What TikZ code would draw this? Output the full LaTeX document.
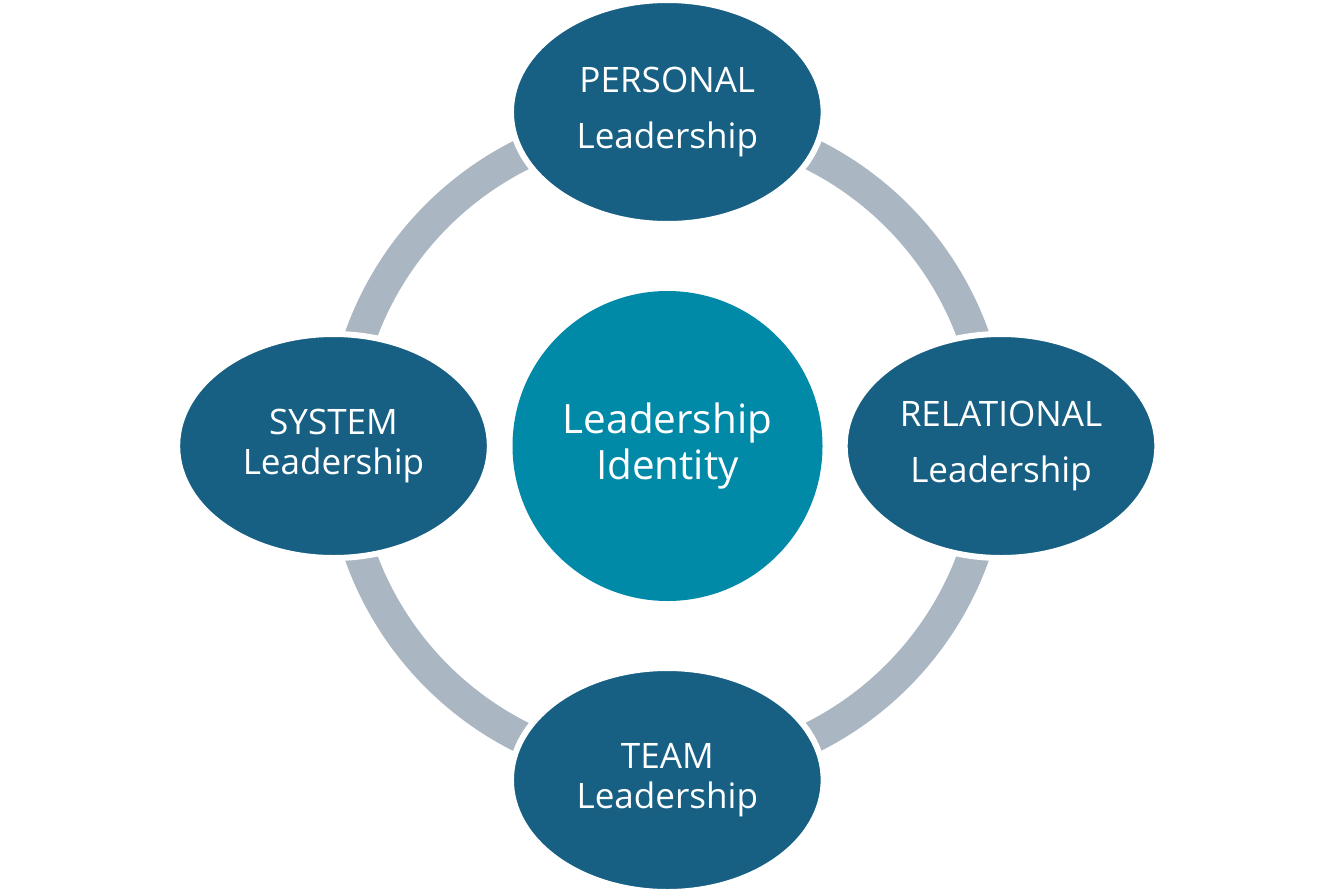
\documentclass[tikz,border=0pt]{standalone}
\usepackage{fontspec}
\setmainfont{Open Sans}
\usetikzlibrary{shapes.geometric}
\definecolor{ellblue}{RGB}{23,96,131}
\definecolor{coreteal}{RGB}{1,137,168}
\definecolor{ringgray}{RGB}{170,182,194}
\tikzset{
  facet/.style={ellipse, fill=ellblue, draw=white, line width=4.5pt,
    minimum width=234.5pt, minimum height=168pt, inner sep=0pt,
    text=white, align=center},
  widefont/.style={font=\fontsize{26.3}{42}\selectfont},
  tightfont/.style={font=\fontsize{26.3}{30}\selectfont},
  core/.style={circle, fill=coreteal, draw=none, minimum size=232.5pt,
    inner sep=0pt, text=white, align=center,
    font=\fontsize{30.3}{35}\selectfont},
  ring/.style={draw=ringgray, line width=24pt}
}
\begin{document}
\begin{tikzpicture}[x=0.75pt,y=-0.75pt]
\useasboundingbox (0,0) rectangle (1334,892);
\coordinate (c) at (667,446);
\draw[ring] (c) circle[radius=244.1pt];
\node[core] (identity) at (667.5,446) {Leadership\\Identity};
\node[facet,widefont] (personal) at (667.3,112) {PERSONAL\\Leadership};
\node[facet,widefont] (relational) at (1001,446) {RELATIONAL\\Leadership};
\node[facet,tightfont] (system) at (333.5,446) {SYSTEM\\Leadership};
\node[facet,tightfont] (team) at (667.3,780) {TEAM\\Leadership};
\end{tikzpicture}
\end{document}
